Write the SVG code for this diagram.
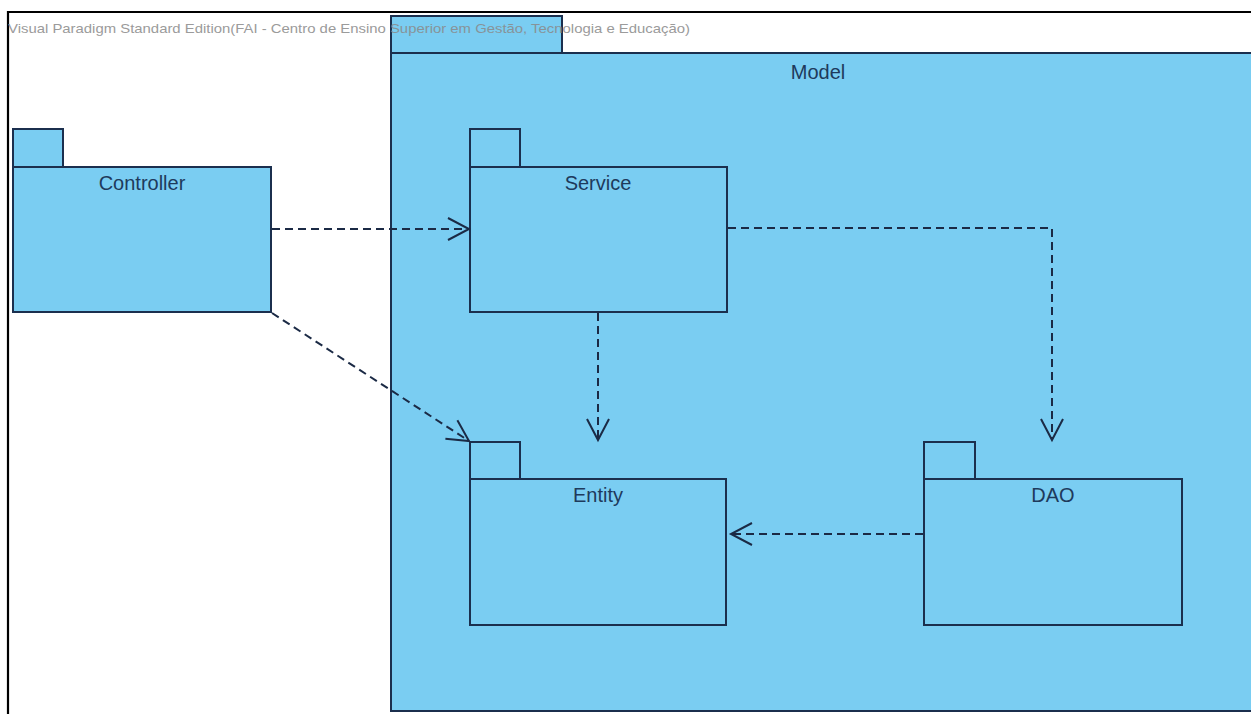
<svg xmlns="http://www.w3.org/2000/svg" width="1251" height="714" viewBox="0 0 1251 714">
<style>
.pkg{fill:#7acdf2;stroke:#1b2f4e;stroke-width:2}
.lbl{font-family:"Liberation Sans",Arial,sans-serif;font-size:20px;fill:#1e3a5c;text-anchor:middle}
.dep{fill:none;stroke:#1b2a45;stroke-width:2;stroke-dasharray:8 5}
.wm{font-family:"Liberation Sans",Arial,sans-serif;font-size:13px;fill:#8a8a8a}
</style>
<defs>
<marker id="open" markerUnits="userSpaceOnUse" markerWidth="30" markerHeight="30" refX="0" refY="0" orient="auto" overflow="visible">
<path d="M-21,-11 L0,0 L-21,11" fill="none" stroke="#1b2a45" stroke-width="2"/>
</marker>
</defs>
<rect x="0" y="0" width="1251" height="714" fill="#ffffff"/>
<path d="M8,714 L8,12 L1251,12" fill="none" stroke="#000" stroke-width="2.2"/>
<g id="model">
<rect class="pkg" x="391" y="16" width="171" height="37"/>
<rect class="pkg" x="391" y="53" width="880" height="658"/>
<text class="lbl" x="818" y="79">Model</text>
</g>
<g id="controller">
<rect class="pkg" x="13" y="129" width="50" height="38"/>
<rect class="pkg" x="13" y="167" width="258" height="145"/>
<text class="lbl" x="142" y="190">Controller</text>
</g>
<g id="service">
<rect class="pkg" x="470" y="129" width="50" height="38"/>
<rect class="pkg" x="470" y="167" width="257" height="145"/>
<text class="lbl" x="598" y="190">Service</text>
</g>
<g id="entity">
<rect class="pkg" x="470" y="442" width="50" height="37"/>
<rect class="pkg" x="470" y="479" width="256" height="146"/>
<text class="lbl" x="598" y="502">Entity</text>
</g>
<g id="dao">
<rect class="pkg" x="924" y="442" width="51" height="37"/>
<rect class="pkg" x="924" y="479" width="258" height="146"/>
<text class="lbl" x="1053" y="502">DAO</text>
</g>
<g id="connectors">
<path class="dep" d="M272,229 L469,229" marker-end="url(#open)"/>
<path class="dep" d="M272,313 L469,441" marker-end="url(#open)"/>
<path class="dep" d="M598,313 L598,440" marker-end="url(#open)"/>
<path class="dep" d="M728,228 L1052,228 L1052,440" marker-end="url(#open)"/>
<path class="dep" d="M923,534 L731,534" marker-end="url(#open)"/>
</g>
<text class="wm" x="8" y="33" textLength="682" lengthAdjust="spacingAndGlyphs" opacity="0.85">Visual Paradigm Standard Edition(FAI - Centro de Ensino Superior em Gestão, Tecnologia e Educação)</text>
</svg>
